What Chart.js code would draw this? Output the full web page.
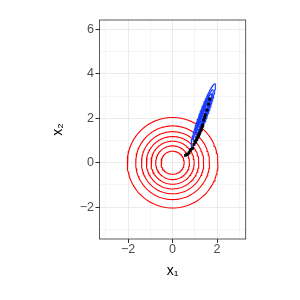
<!DOCTYPE html>
<html>
<head>
<meta charset="utf-8">
<script src="https://cdn.jsdelivr.net/npm/chart.js@4.4.0/dist/chart.umd.min.js"></script>
<style>
  body { margin: 0; background: #fff; }
  canvas { display: block; }
</style>
</head>
<body>
<canvas id="graph" width="300" height="300"></canvas>
<script>
// contour radii (same levels used for the red and the blue contours)
var contourRadii = [0.52, 0.76, 0.97, 1.18, 1.40, 1.66, 2.04];

// red contours: centred at origin
var redCenter = [0, 0];

// blue contours: centre, semi axes at unit radius, angle (deg)
var blueCenter = [1.38, 2.13];
var blueAxes = [0.745, 0.085];
var blueAngle = 69.8;

// black path of points
var walkX = [0.58, 0.63, 0.69, 0.74, 0.79, 0.83, 0.90, 0.96, 1.01, 1.04, 1.08, 1.10, 1.14, 1.17, 1.20, 1.23, 1.27, 1.29, 1.33, 1.35, 1.40, 1.44, 1.47, 1.55, 1.62, 1.67];
var walkY = [0.33, 0.37, 0.40, 0.45, 0.55, 0.60, 0.65, 0.83, 0.92, 0.98, 1.04, 1.10, 1.16, 1.22, 1.30, 1.37, 1.45, 1.52, 1.62, 1.70, 1.92, 2.05, 2.15, 2.37, 2.64, 2.86];

var xTicks = [-2, 0, 2];
var yTicks = [-2, 0, 2, 4, 6];

var context = document.querySelector('#graph').getContext('2d');

function ellipsePoints(center, a, b, angleDeg) {
  var pts = [];
  var t = angleDeg * Math.PI / 180;
  for (var i = 0; i <= 120; i++) {
    var u = 2 * Math.PI * i / 120;
    var ex = a * Math.cos(u), ey = b * Math.sin(u);
    pts.push({
      x: center[0] + ex * Math.cos(t) - ey * Math.sin(t),
      y: center[1] + ex * Math.sin(t) + ey * Math.cos(t)
    });
  }
  return pts;
}

function buildDatasets() {
  var sets = [];
  // black points first so they end up on top
  sets.push({
    data: walkX.map(function(v, i) { return { x: v, y: walkY[i] }; }),
    showLine: false, pointStyle: 'rect', pointRadius: 2,
    backgroundColor: '#000', borderColor: '#000', borderWidth: 0
  });
  contourRadii.forEach(function(r) {
    sets.push({
      data: ellipsePoints(blueCenter, r * blueAxes[0], r * blueAxes[1], blueAngle),
      showLine: true, borderColor: '#1a3cff', borderWidth: 1.1, pointRadius: 0, fill: false
    });
  });
  contourRadii.forEach(function(r) {
    sets.push({
      data: ellipsePoints(redCenter, r, r, 0),
      showLine: true, borderColor: '#ff0000', borderWidth: 1.1, pointRadius: 0, fill: false
    });
  });
  return sets;
}

function minusLabel(list) {
  return function(v) {
    if (list.indexOf(v) < 0) return '';
    return v < 0 ? '\u2212' + Math.abs(v) : String(v);
  };
}

function gridStyle(list) {
  return {
    color: '#EBEBEB',
    lineWidth: function(c) { return c.tick && list.indexOf(c.tick.value) >= 0 ? 1 : 0.5; },
    tickColor: function(c) { return c.tick && list.indexOf(c.tick.value) >= 0 ? '#333333' : 'rgba(0,0,0,0)'; },
    tickWidth: 1,
    tickLength: 4,
    drawTicks: true
  };
}

// panel border drawn on top
var panelBorder = {
  id: 'panelBorder',
  afterDraw: function(chart) {
    var a = chart.chartArea, ctx = chart.ctx;
    ctx.save();
    ctx.strokeStyle = '#333333';
    ctx.lineWidth = 0.8;
    ctx.strokeRect(a.left, a.top, a.right - a.left, a.bottom - a.top);
    ctx.restore();
  }
};

var chart = new Chart(context, {
  type: 'scatter',
  data: { datasets: buildDatasets() },
  options: {
    responsive: false,
    animation: false,
    layout: { padding: { top: 20, right: 54.3, bottom: 0, left: 0 } },
    plugins: { legend: { display: false }, tooltip: { enabled: false } },
    scales: {
      x: {
        type: 'linear', min: -3.29, max: 3.29,
        afterFit: function(s) { s.height = 61; },
        ticks: {
          stepSize: 1, includeBounds: false, autoSkip: false, maxRotation: 0,
          padding: 0, color: '#4D4D4D',
          font: { family: 'Liberation Sans', size: 12.5, lineHeight: 1 },
          callback: minusLabel(xTicks)
        },
        grid: gridStyle(xTicks),
        border: { display: false },
        title: {
          display: true, text: 'x\u2081', color: '#000',
          font: { family: 'Liberation Sans', size: 14, lineHeight: 1.2 },
          padding: { top: 0, bottom: 20 }
        }
      },
      y: {
        type: 'linear', min: -3.435, max: 6.43,
        afterFit: function(s) { s.width = 99.5; },
        ticks: {
          stepSize: 1, includeBounds: false, autoSkip: false,
          padding: 1.5, color: '#4D4D4D',
          font: { family: 'Liberation Sans', size: 12.5, lineHeight: 1 },
          callback: minusLabel(yTicks)
        },
        grid: gridStyle(yTicks),
        border: { display: false },
        title: {
          display: true, text: 'x\u2082', color: '#000',
          font: { family: 'Liberation Sans', size: 14, lineHeight: 1.2 },
          padding: { top: 50, bottom: 0 }
        }
      }
    }
  },
  plugins: [panelBorder]
});
</script>
</body>
</html>
